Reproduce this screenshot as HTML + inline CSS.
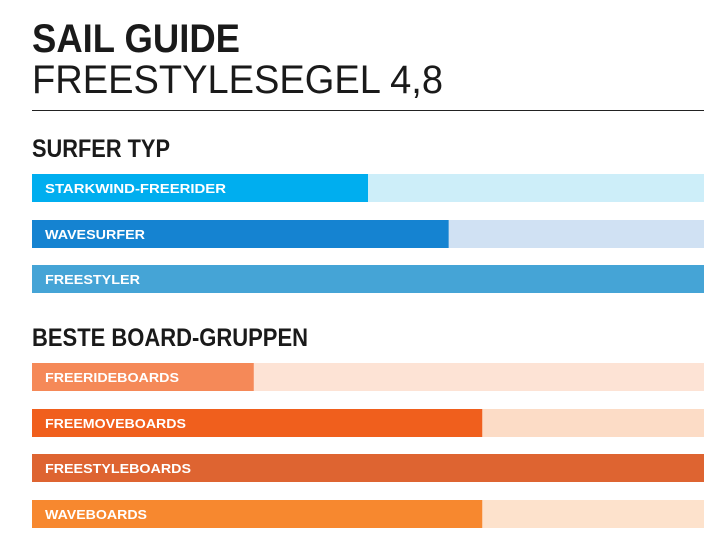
<!DOCTYPE html>
<html><head><meta charset="utf-8"><style>
html,body{margin:0;padding:0;background:#fff;}
svg{display:block;font-family:"Liberation Sans",sans-serif;}
</style></head><body>
<svg id="chart" width="712" height="552" viewBox="0 0 712 552" xmlns="http://www.w3.org/2000/svg">
<text x="32" y="52" font-size="40" font-weight="bold" fill="#1a1a1a" textLength="208" lengthAdjust="spacingAndGlyphs">SAIL GUIDE</text>
<text x="32" y="93" font-size="40" fill="#1a1a1a" textLength="411" lengthAdjust="spacingAndGlyphs">FREESTYLESEGEL 4,8</text>
<rect x="32" y="110" width="672" height="1" fill="#222"/>
<text x="32" y="157" font-size="25" font-weight="bold" fill="#1a1a1a" textLength="138" lengthAdjust="spacingAndGlyphs">SURFER TYP</text>
<text x="32" y="346" font-size="25" font-weight="bold" fill="#1a1a1a" textLength="276" lengthAdjust="spacingAndGlyphs">BESTE BOARD-GRUPPEN</text>
<g id="bars"></g>
</svg>
<script>
const labels = ["STARKWIND-FREERIDER","WAVESURFER","FREESTYLER","FREERIDEBOARDS","FREEMOVEBOARDS","FREESTYLEBOARDS","WAVEBOARDS"];
const values = [50, 62, 100, 33, 67, 100, 67];
const maxValue = 100;
const barTops = [174, 220, 265, 363, 409, 454, 500];
const fg = ["#00aeef","#1583d1","#45a4d6","#f58958","#f05f1d","#de6431","#f7882f"];
const bg = ["#cdeef9","#d0e1f3","#d0e8f5","#fde3d5","#fcdcc6","#fbdccc","#fde2cc"];
const labelW = [181, 100, 95, 134, 141, 146, 102];
const x0 = 32, W = 672, H = 28;
const xs = v => W * v / maxValue;
const g = document.getElementById('bars');
const NS = "http://www.w3.org/2000/svg";
labels.forEach((lab, i) => {
  const b = document.createElementNS(NS, 'rect');
  
  
  b.setAttribute('x', x0); b.setAttribute('y', barTops[i]);
  b.setAttribute('width', W); b.setAttribute('height', H);
  b.setAttribute('fill', bg[i]);
  g.appendChild(b);
  const r = document.createElementNS(NS, 'rect');
  
  
  r.setAttribute('x', x0); r.setAttribute('y', barTops[i]);
  r.setAttribute('width', xs(values[i])); r.setAttribute('height', H);
  r.setAttribute('fill', fg[i]);
  g.appendChild(r);
  const t = document.createElementNS(NS, 'text');
  
  
  t.setAttribute('x', 45); t.setAttribute('y', barTops[i] + 19);
  t.setAttribute('font-size', '12.5'); t.setAttribute('font-weight', 'bold');
  t.setAttribute('fill', '#fff');
  t.setAttribute('textLength', labelW[i]); t.setAttribute('lengthAdjust', 'spacingAndGlyphs');
  t.textContent = lab;
  g.appendChild(t);
});
</script>
</body></html>
